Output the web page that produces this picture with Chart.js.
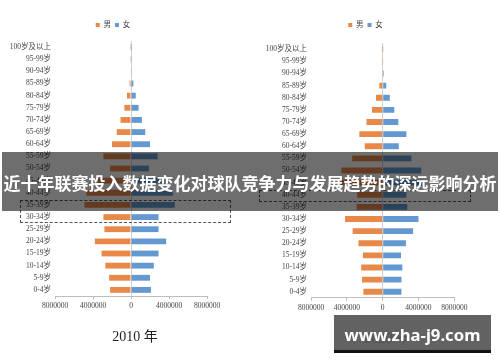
<!DOCTYPE html>
<html>
<head>
<meta charset="utf-8">
<script src="https://cdn.jsdelivr.net/npm/chart.js@4.4.1/dist/chart.umd.min.js"></script>
<style>
    html, body { margin: 0; padding: 0; background: #fff; }
    #stage { position: relative; width: 500px; height: 362px; overflow: hidden; background: #fff; }
    canvas { position: absolute; top: 0; }
    #c2010 { left: 0; }
    #c2020 { left: 250px; }
    .year {
        position: absolute; transform: translate(-50%, -50%); white-space: nowrap;
        font-family: "Liberation Serif", "Noto Sans CJK SC", serif; font-size: 14px; color: #222;
    }
    .mark { position: absolute; border: 1px dashed #555; box-sizing: border-box; }
    #band {
        position: absolute; left: 2px; top: 152px; width: 496px; height: 59px;
        background: rgba(0, 0, 0, 0.57); color: #fff; text-align: center; white-space: nowrap;
        font-family: "Noto Sans CJK SC", sans-serif; font-weight: 700; font-size: 17px; line-height: 62px;
    }
    #wm {
        position: absolute; left: 334px; top: 315px; width: 157px; height: 35px;
        background: rgba(85, 85, 85, 0.92); border-bottom: 3px solid #111;
        color: #fff; text-align: center; white-space: nowrap;
        font-family: "Noto Sans", sans-serif; font-weight: 700; font-size: 20px; line-height: 37px;
    }
</style>
</head>
<body>
<div id="stage">
    <canvas id="c2010" width="226" height="330"></canvas>
    <canvas id="c2020" width="231" height="330"></canvas>
    <div class="mark" style="left:20px; top:200px; width:211px; height:23px;"></div>
    <div class="mark" style="left:259px; top:190px; width:212px; height:12px;"></div>
    <div class="year" style="left:135px; top:335px;">2010 年</div>
    <div class="year" style="left:387px; top:337px;">2020 年</div>
    <div id="band"><span id="band-text">近十年联赛投入数据变化对球队竞争力与发展趋势的深远影响分析</span></div>
    <div id="wm"><span id="wm-text">www.zha-j9.com</span></div>
</div>
<script>
// 年龄组, 从上到下
const ageGroups = [
    "100岁及以上", "95-99岁", "90-94岁", "85-89岁", "80-84岁", "75-79岁", "70-74岁",
    "65-69岁", "60-64岁", "55-59岁", "50-54岁", "45-49岁", "40-44岁", "35-39岁",
    "30-34岁", "25-29岁", "20-24岁", "15-19岁", "10-14岁", "5-9岁", "0-4岁",
];

const male2010 = [
    10000, 20000, 60000, 150000, 420000, 700000, 1100000,
    1500000, 2000000, 2900000, 2200000, 3500000, 4700000, 4900000,
    2900000, 2800000, 3800000, 3100000, 2700000, 2300000, 2200000,
];
const female2010 = [
    20000, 30000, 40000, 250000, 500000, 800000, 1150000,
    1500000, 2000000, 2800000, 1900000, 3300000, 4400000, 4600000,
    2900000, 2900000, 3700000, 2900000, 2400000, 2000000, 2100000,
];

const male2020 = [
    10000, 30000, 60000, 370000, 750000, 1200000, 1800000,
    2600000, 2000000, 3400000, 4600000, 4700000, 2850000, 2900000,
    4200000, 3350000, 2700000, 2200000, 2400000, 2300000, 2150000,
];
const female2020 = [
    20000, 50000, 120000, 400000, 800000, 1300000, 1750000,
    2650000, 1800000, 3200000, 4300000, 4400000, 2650000, 2750000,
    4000000, 3400000, 2600000, 2050000, 2200000, 2100000, 2100000,
];

const xTicks = [-8000000, -4000000, 0, 4000000, 8000000];
const seriesNames = ["男", "女"];

const COLOR_MALE = "#E8894A";
const COLOR_FEMALE = "#6399D0";
const FONT_LABEL = "'Liberation Serif', 'Noto Sans CJK SC', serif";

function buildPyramid(canvasId, male, female, box) {
    const ctx = document.getElementById(canvasId);

    return new Chart(ctx, {
        type: "bar",
        data: {
            labels: ageGroups,
            datasets: [
                { label: seriesNames[0], data: male.map(v => -v), backgroundColor: COLOR_MALE },
                { label: seriesNames[1], data: female, backgroundColor: COLOR_FEMALE },
            ],
        },
        options: {
            indexAxis: "y",
            responsive: false,
            animation: false,
            layout: { padding: { left: 0, right: 0, top: box.top, bottom: 0 } },
            datasets: { bar: { barPercentage: 1, categoryPercentage: 0.48, borderWidth: 0 } },
            plugins: {
                legend: {
                    position: "top",
                    labels: {
                        boxWidth: 4, boxHeight: 4, padding: 4, color: "#444",
                        font: { family: FONT_LABEL, size: 7.5 },
                    },
                },
                // spacer between legend and plot
                title: {
                    display: true, text: "", weight: 500,
                    font: { size: 1, lineHeight: 1 },
                    padding: { top: 0, bottom: box.spacer - 1 },
                },
                tooltip: { enabled: false },
            },
            scales: {
                x: {
                    stacked: true,
                    min: xTicks[0],
                    max: xTicks[xTicks.length - 1],
                    afterBuildTicks: scale => { scale.ticks = xTicks.map(v => ({ value: v })); },
                    afterFit: scale => { scale.height = box.xHeight; },
                    border: { display: true, color: "#bdbdbd" },
                    grid: {
                        color: c => (c.tick && c.tick.value === 0 ? "#cfcfcf" : "rgba(0,0,0,0)"),
                        tickColor: "#bdbdbd",
                        tickLength: 3,
                    },
                    ticks: {
                        padding: 3, color: "#444", maxRotation: 0,
                        font: { family: FONT_LABEL, size: 7.5 },
                        callback: v => String(Math.abs(v)),
                    },
                },
                y: {
                    stacked: true,
                    afterFit: scale => { scale.width = box.yWidth; },
                    border: { display: false },
                    grid: { display: false, drawTicks: false },
                    ticks: {
                        autoSkip: false, padding: 4, color: "#444",
                        font: { family: FONT_LABEL, size: 7.5 },
                    },
                },
                // empty right-hand axis, only keeps room on the right
                yRight: {
                    type: "category",
                    position: "right",
                    afterFit: scale => { scale.width = box.rightGap; },
                    border: { display: false },
                    grid: { display: false, drawTicks: false },
                    ticks: { display: false },
                },
            },
        },
    });
}

function fitText(el, width) {
    const size = parseFloat(getComputedStyle(el).fontSize);
    const w = el.getBoundingClientRect().width;
    if (w > 0) el.style.fontSize = (size * width / w) + "px";
}

document.fonts.ready.then(() => {
    buildPyramid("c2010", male2010, female2010, {
        top: 17.25, yWidth: 55, rightGap: 19, xHeight: 34, spacer: 2.25,
    });
    buildPyramid("c2020", male2020, female2020, {
        top: 17.25, yWidth: 61, rightGap: 26.7, xHeight: 32.2, spacer: 4.45,
    });
    fitText(document.getElementById("band-text"), 493);
    fitText(document.getElementById("wm-text"), 136);
});
</script>
</body>
</html>
